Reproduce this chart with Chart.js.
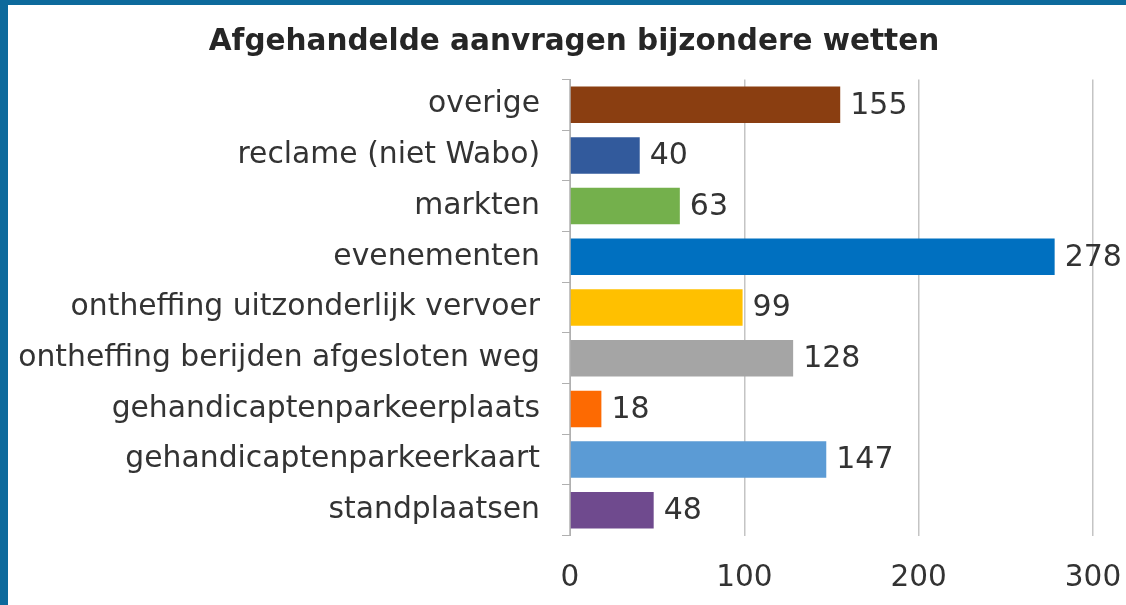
<!DOCTYPE html>
<html>
<head>
<meta charset="utf-8">
<script src="https://cdn.jsdelivr.net/npm/chart.js@4.4.1/dist/chart.umd.min.js"></script>
<style>
  html, body { margin: 0; padding: 0; }
  body { width: 1126px; height: 605px; overflow: hidden; background: #0d6a9c; position: relative; }
  #frame { position: absolute; left: 8px; top: 5px; width: 1132px; height: 616px; background: #fff; }
</style>
</head>
<body>
<div id="frame"><canvas id="chart"></canvas></div>
<script>
const categories = [
  'overige',
  'reclame (niet Wabo)',
  'markten',
  'evenementen',
  'ontheffing uitzonderlijk vervoer',
  'ontheffing berijden afgesloten weg',
  'gehandicaptenparkeerplaats',
  'gehandicaptenparkeerkaart',
  'standplaatsen'
];
const values = [155, 40, 63, 278, 99, 128, 18, 147, 48];
const barColors = ['#8a3e11', '#325a9c', '#74b04c', '#0070c0', '#ffc000', '#a5a5a5', '#fd6a02', '#5b9bd5', '#6f4a8e'];
const xTicks = [0, 100, 200, 300];

const textColor = '#333333';

// draws the number next to every bar
const valueLabels = {
  id: 'valueLabels',
  afterDatasetsDraw(chart) {
    const ctx = chart.ctx;
    const meta = chart.getDatasetMeta(0);
    ctx.save();
    ctx.font = '30px "DejaVu Sans"';
    ctx.fillStyle = textColor;
    ctx.textAlign = 'left';
    ctx.textBaseline = 'middle';
    meta.data.forEach((bar, i) => {
      ctx.fillText(values[i], bar.x + 10, bar.y + 1);
    });
    ctx.restore();
  }
};

const ctx = document.getElementById('chart').getContext('2d');

const chart = new Chart(ctx, {
  type: 'bar',
  data: {
    labels: categories,
    datasets: [{
      data: values,
      backgroundColor: barColors,
      barPercentage: 0.72,
      categoryPercentage: 1
    }]
  },
  options: {
    indexAxis: 'y',
    responsive: true,
    maintainAspectRatio: false,
    animation: false,
    layout: { padding: 0 },
    plugins: {
      legend: { display: false },
      tooltip: { enabled: false },
      title: {
        display: true,
        text: 'Afgehandelde aanvragen bijzondere wetten',
        color: '#262626',
        font: { family: 'DejaVu Sans', size: 29.5, weight: 'bold' },
        padding: { top: 20, bottom: 19 }
      }
    },
    scales: {
      x: {
        min: 0,
        max: 300,
        afterBuildTicks: (scale) => {
          scale.ticks = xTicks.map(v => ({ value: v }));
        },
        // keep room on the right without narrowing the title box
        afterFit: (scale) => { scale.paddingRight = 47; },
        ticks: {
          color: textColor,
          font: { family: 'DejaVu Sans', size: 29.5 },
          padding: 25
        },
        grid: { color: '#c4c4c4', lineWidth: 1.5, drawTicks: false },
        border: { display: false }
      },
      y: {
        afterFit: (scale) => { scale.width = 562; },
        ticks: {
          color: textColor,
          font: { family: 'DejaVu Sans', size: 29.8 },
          padding: 22
        },
        grid: { drawOnChartArea: false, tickLength: 8, color: '#b0b0b0' },
        border: { color: '#b0b0b0' }
      }
    }
  },
  plugins: [valueLabels]
});
</script>
</body>
</html>
